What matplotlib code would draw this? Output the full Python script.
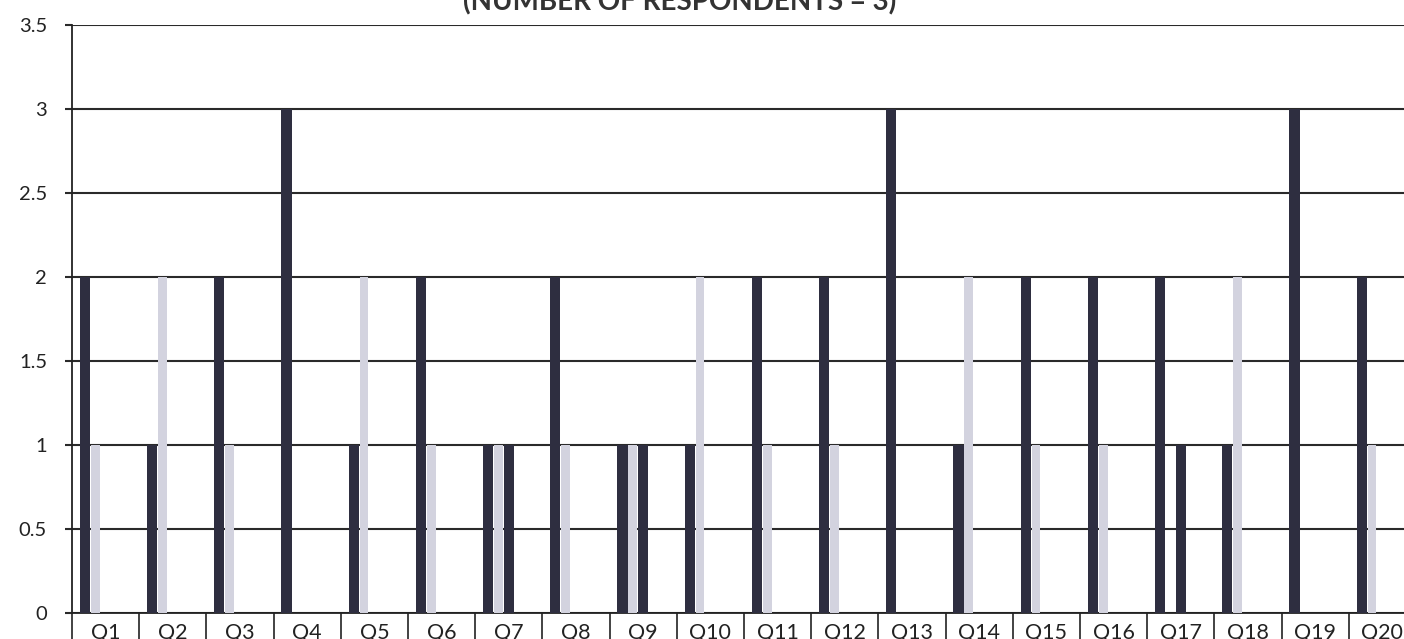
import matplotlib.pyplot as plt
import numpy as np

questions = ["Q%d" % i for i in range(1, 21)]
series_1 = [2, 1, 2, 3, 1, 2, 1, 2, 1, 1, 2, 2, 3, 1, 2, 2, 2, 1, 3, 2]
series_2 = [1, 2, 1, 0, 2, 1, 1, 1, 1, 2, 1, 1, 0, 2, 1, 1, 0, 2, 0, 1]
series_3 = [0, 0, 0, 0, 0, 0, 1, 0, 1, 0, 0, 0, 0, 0, 0, 0, 1, 0, 0, 0]
y_ticks = [0, 0.5, 1, 1.5, 2, 2.5, 3, 3.5]
title = "(NUMBER OF RESPONDENTS = 3)"

dark = "#2e2e40"
light = "#d3d3df"

plt.rcParams['font.family'] = ['Lato', 'DejaVu Sans']

fig = plt.figure(figsize=(14.04, 6.39), dpi=100)
# plot area runs past the right edge, like the cropped scan
ax = fig.add_axes([72 / 1404, 26 / 639, 1344 / 1404, 588 / 639])

x = np.arange(len(questions))
w = 1 / 6.5  # five slots per group plus Excel-style gap
def slot(k):
    return x - 0.5 + 0.75 * w + (k + 0.5) * w

ax.bar(slot(0), series_1, w, color=dark, zorder=3)
ax.bar(slot(1), series_2, w * 0.85, color=light, zorder=3)
ax.bar(slot(2), series_3, w, color=dark, zorder=3)

ax.set_xlim(-0.5, len(questions) - 0.5)
ax.set_ylim(0, 3.5)
ax.set_yticks(y_ticks)
ax.set_yticklabels(["0", "0.5", "1", "1.5", "2", "2.5", "3", "3.5"], fontsize=14.5, color="#222222")
ax.yaxis.grid(True, color="#2a2a2a", linewidth=1.5, zorder=0)
ax.set_axisbelow(True)
ax.tick_params(axis="y", length=5, width=1.5, color="#2a2a2a", pad=13)

# category cells: boundary ticks downward, labels centred
ax.set_xticks(np.arange(-0.5, len(questions)), minor=False)
ax.set_xticklabels([])
ax.set_xticks(x, minor=True)
ax.set_xticklabels(questions, minor=True, fontsize=15.5, color="#222222")
ax.tick_params(axis="x", which="major", length=22, width=1.2, color="#222222")
ax.tick_params(axis="x", which="minor", length=0, pad=7)

for s in ["top", "right"]:
    ax.spines[s].set_visible(False)
ax.spines["left"].set_color("#222222")
ax.spines["left"].set_linewidth(1.3)
ax.spines["bottom"].set_color("#222222")
ax.spines["bottom"].set_linewidth(1.3)

# title sits mostly above the crop, as in the scan
fig.text(680 / 1404, 1 - 10 / 639, title, ha="center", va="baseline",
         fontsize=20, fontweight="bold", color="#333333")

fig.savefig("out.png", dpi=100)
